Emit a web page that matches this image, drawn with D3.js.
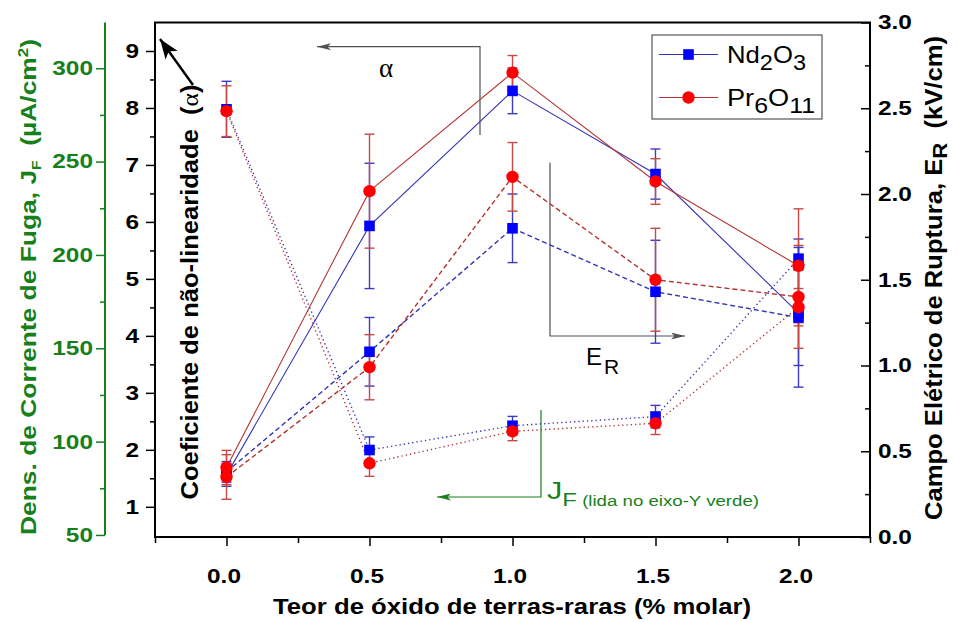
<!DOCTYPE html>
<html>
<head>
<meta charset="utf-8">
<script src="https://cdn.jsdelivr.net/npm/d3@7"></script>
<style>
  body { margin: 0; background: #fff; }
  svg { display: block; }
  text { white-space: pre; }
</style>
</head>
<body>
<script>
// x positions (% molar)
const xValues = [0, 0.5, 1.0, 1.5, 2.0]

// alpha (left black axis), solid lines
const alphaNd = [1.56, 5.93, 8.30, 6.84, 4.40]
const alphaNdErr = [0.2, 1.1, 0.4, 0.44, 1.3]
const alphaPr = [1.69, 6.54, 8.62, 6.71, 5.23]
const alphaPrErr = [0.3, 1.0, 0.3, 0.4, 1.0]

// E_R (right axis, kV/cm), dashed lines
const erNd = [0.38, 1.08, 1.80, 1.43, 1.28]
const erNdErr = [0.06, 0.2, 0.2, 0.3, 0.28]
const erPr = [0.35, 0.99, 2.10, 1.50, 1.40]
const erPrErr = [0.13, 0.19, 0.2, 0.3, 0.3]

// J_F (green axis, uA/cm2), dotted lines
const jfNd = [278, 95.5, 108.5, 113.4, 198]
const jfNdErr = [15, 7, 5, 6, 6]
const jfPr = [277, 88.4, 105.5, 109.8, 172]
const jfPrErr = [13.6, 7, 5, 6, 10]

const xTicks = [0, 0.5, 1.0, 1.5, 2.0]
const xMinor = [-0.25, 0.25, 0.75, 1.25, 1.75, 2.25]
const leftTicks = [1, 2, 3, 4, 5, 6, 7, 8, 9]
const leftMinor = [1.5, 2.5, 3.5, 4.5, 5.5, 6.5, 7.5, 8.5]
const rightTicks = [0, 0.5, 1.0, 1.5, 2.0, 2.5, 3.0]
const rightMinor = [0.25, 0.75, 1.25, 1.75, 2.25, 2.75]
const greenTicks = [50, 100, 150, 200, 250, 300]
const greenMinor = [75, 125, 175, 225, 275]

const width = 958
const height = 622
const plotLeft = 155, plotRight = 870, plotTop = 22.5, plotBottom = 537
const green = "#17801a"
const blue = "#0000ff", red = "#ff0000"
const blueLine = "#3434b4", redLine = "#b43434"
const blueErr = "#3c3cc0", redErr = "#c84848"
const sans = "'Liberation Sans', Arial, sans-serif"

const x = d3.scaleLinear([-0.25, 2.25], [plotLeft, plotRight])
const yL = d3.scaleLinear([0.47, 9.5], [plotBottom, plotTop])
const yR = d3.scaleLinear([0, 3], [plotBottom, plotTop])
const yG = d3.scaleLinear([48.9, 324.5], [plotBottom, plotTop])

const svg = d3.select("body").append("svg")
    .attr("width", width)
    .attr("height", height)
    .attr("viewBox", [0, 0, width, height])
    .style("font-family", sans)

// the original lettering is wider than Liberation Sans, stretch it a bit
function stretch(sel, factor) {
    sel.each(function () {
        const len = this.getComputedTextLength()
        d3.select(this).attr("textLength", len * factor).attr("lengthAdjust", "spacingAndGlyphs")
    })
}
function fitLength(sel, len) {
    sel.attr("textLength", len).attr("lengthAdjust", "spacingAndGlyphs")
}

const defs = svg.append("defs")
function arrowMarker(id, color, w, h) {
    defs.append("marker")
        .attr("id", id)
        .attr("viewBox", `0 0 ${w} ${h}`)
        .attr("refX", w).attr("refY", h / 2)
        .attr("markerWidth", w).attr("markerHeight", h)
        .attr("markerUnits", "userSpaceOnUse")
        .attr("orient", "auto")
        .append("path")
        .attr("d", `M0,0L${w},${h / 2}L0,${h}L${w * 0.25},${h / 2}Z`)
        .attr("fill", color)
}
arrowMarker("arrGray", "#505050", 14, 7)
arrowMarker("arrGreen", green, 14, 7)
arrowMarker("arrBlack", "#000", 20, 15)

// ----- axes -----
function styleAxis(g, color) {
    g.select(".domain").remove()
    g.selectAll("line").attr("stroke", color).attr("stroke-width", 1.5)
    g.selectAll("text")
        .attr("fill", color)
        .style("font-size", "20px")
        .style("font-weight", "bold")
        .style("font-family", sans)
        .call(t => stretch(t, 1.22))
}

svg.append("g").attr("transform", `translate(${plotLeft},0)`)
    .call(d3.axisLeft(yL).tickValues(leftMinor).tickSize(5).tickFormat(""))
    .call(g => styleAxis(g, "#000"))
svg.append("g").attr("transform", `translate(${plotLeft},0)`)
    .call(d3.axisLeft(yL).tickValues(leftTicks).tickSize(9).tickPadding(7).tickFormat(d3.format("d")))
    .call(g => styleAxis(g, "#000"))

svg.append("g").attr("transform", `translate(0,${plotBottom})`)
    .call(d3.axisBottom(x).tickValues(xMinor).tickSize(6).tickFormat(""))
    .call(g => styleAxis(g, "#000"))
svg.append("g").attr("transform", `translate(0,${plotBottom})`)
    .call(d3.axisBottom(x).tickValues(xTicks).tickSize(9).tickPadding(23).tickFormat(d3.format(".1f")))
    .call(g => styleAxis(g, "#000"))
    .call(g => g.selectAll("text").attr("x", -3))

svg.append("g").attr("transform", `translate(${plotRight},0)`)
    .call(d3.axisRight(yR).tickValues(rightMinor).tickSizeInner(-5).tickFormat(""))
    .call(g => styleAxis(g, "#000"))
svg.append("g").attr("transform", `translate(${plotRight},0)`)
    .call(d3.axisRight(yR).tickValues(rightTicks).tickSizeInner(-9).tickPadding(8).tickFormat(d3.format(".1f")))
    .call(g => styleAxis(g, "#000"))

const gx = 105
svg.append("line")
    .attr("x1", gx).attr("x2", gx)
    .attr("y1", plotTop).attr("y2", yG(50))
    .attr("stroke", green).attr("stroke-width", 2)
svg.append("g").attr("transform", `translate(${gx},0)`)
    .call(d3.axisLeft(yG).tickValues(greenMinor).tickSize(5).tickFormat(""))
    .call(g => styleAxis(g, green))
svg.append("g").attr("transform", `translate(${gx},0)`)
    .call(d3.axisLeft(yG).tickValues(greenTicks).tickSize(9).tickPadding(3).tickFormat(d3.format("d")))
    .call(g => styleAxis(g, green))

// frame
svg.append("rect")
    .attr("x", plotLeft).attr("y", plotTop)
    .attr("width", plotRight - plotLeft).attr("height", plotBottom - plotTop)
    .attr("fill", "none").attr("stroke", "#000").attr("stroke-width", 2)

// ----- axis titles -----
svg.append("text")
    .attr("x", 512).attr("y", 614)
    .attr("text-anchor", "middle")
    .style("font", `bold 22px ${sans}`)
    .text("Teor de óxido de terras-raras (% molar)")
    .call(t => fitLength(t, 478))

const ta = svg.append("text")
    .attr("transform", "translate(198,292) rotate(-90)")
    .attr("text-anchor", "middle")
    .style("font", `bold 23px ${sans}`)
ta.append("tspan").text("Coeficiente de não-linearidade  (")
ta.append("tspan").style("font-family", "'Liberation Serif', serif").style("font-weight", "normal").text("α")
ta.append("tspan").text(")")
fitLength(ta, 415)

const tg = svg.append("text")
    .attr("transform", "translate(36,287) rotate(-90)")
    .attr("text-anchor", "middle")
    .attr("fill", green)
    .style("font", `bold 22px ${sans}`)
tg.append("tspan").text("Dens. de Corrente de Fuga, J")
tg.append("tspan").attr("dy", 5).style("font-size", "13px").text("F")
tg.append("tspan").attr("dy", -5).text("  (µA/cm")
tg.append("tspan").attr("dy", -8).style("font-size", "14px").text("2")
tg.append("tspan").attr("dy", 8).text(")")
fitLength(tg, 496)

const tr = svg.append("text")
    .attr("transform", "translate(942,278) rotate(-90)")
    .attr("text-anchor", "middle")
    .style("font", `bold 23px ${sans}`)
tr.append("tspan").text("Campo Elétrico de Ruptura, E")
tr.append("tspan").attr("dy", 5).style("font-size", "20px").text("R")
tr.append("tspan").attr("dy", -5).text("  (kV/cm)")
fitLength(tr, 484)

// ----- annotations -----
svg.append("path")
    .attr("d", `M480,135V46.7H317`)
    .attr("fill", "none").attr("stroke", "#505050").attr("stroke-width", 1.2)
    .attr("marker-end", "url(#arrGray)")
svg.append("text")
    .attr("x", 386).attr("y", 77)
    .attr("text-anchor", "middle")
    .style("font", "27px 'Liberation Serif', serif")
    .text("α")

svg.append("path")
    .attr("d", `M550,162.7V336H685`)
    .attr("fill", "none").attr("stroke", "#505050").attr("stroke-width", 1.2)
    .attr("marker-end", "url(#arrGray)")
const er = svg.append("text")
    .attr("x", 586).attr("y", 365)
    .style("font", `24px ${sans}`)
er.append("tspan").text("E")
er.append("tspan").attr("dy", 9).attr("dx", 2).style("font-size", "21px").text("R")

svg.append("path")
    .attr("d", `M541,410V497H437`)
    .attr("fill", "none").attr("stroke", green).attr("stroke-width", 1.2)
    .attr("marker-end", "url(#arrGreen)")
const jf = svg.append("text")
    .attr("x", 547).attr("y", 499)
    .attr("fill", green)
    .style("font", `23px ${sans}`)
jf.append("tspan").text("J")
jf.append("tspan").attr("dy", 7).style("font-size", "18px").text("F")
jf.append("tspan").style("font-size", "14px").text(" (lida no eixo-Y verde)")
fitLength(jf, 212)

svg.append("line")
    .attr("x1", 193).attr("y1", 85)
    .attr("x2", 160).attr("y2", 39)
    .attr("stroke", "#000").attr("stroke-width", 2.4)
    .attr("marker-end", "url(#arrBlack)")

// ----- series -----
const series = [
    { v: alphaNd, e: alphaNdErr, y: yL, line: blueLine, err: blueErr, fill: blue, shape: "square", dash: null },
    { v: alphaPr, e: alphaPrErr, y: yL, line: redLine, err: redErr, fill: red, shape: "circle", dash: null },
    { v: erNd, e: erNdErr, y: yR, line: blueLine, err: blueErr, fill: blue, shape: "square", dash: "5,3" },
    { v: erPr, e: erPrErr, y: yR, line: redLine, err: redErr, fill: red, shape: "circle", dash: "5,3" },
    { v: jfNd, e: jfNdErr, y: yG, line: blueLine, err: blueErr, fill: blue, shape: "square", dash: "1.3,3" },
    { v: jfPr, e: jfPrErr, y: yG, line: redLine, err: redErr, fill: red, shape: "circle", dash: "1.3,3" }
]

const plot = svg.append("g")

series.forEach(s => {
    const pts = xValues.map((xv, i) => [xv, s.v[i]])
    plot.append("path")
        .datum(pts)
        .attr("fill", "none")
        .attr("stroke", s.line)
        .attr("stroke-width", s.dash ? 1.4 : 1.1)
        .attr("stroke-dasharray", s.dash)
        .attr("d", d3.line().x(d => x(d[0])).y(d => s.y(d[1])))
})

series.forEach(s => {
    const g = plot.append("g").attr("stroke", s.err).attr("stroke-width", 1.4)
    xValues.forEach((xv, i) => {
        const cx = x(xv)
        const y1 = s.y(s.v[i] + s.e[i]), y2 = s.y(s.v[i] - s.e[i])
        g.append("line").attr("x1", cx).attr("x2", cx).attr("y1", y1).attr("y2", y2)
        g.append("line").attr("x1", cx - 5).attr("x2", cx + 5).attr("y1", y1).attr("y2", y1)
        g.append("line").attr("x1", cx - 5).attr("x2", cx + 5).attr("y1", y2).attr("y2", y2)
    })
})

function drawMarker(g, shape, cx, cy, fill) {
    if (shape === "square") {
        g.append("rect").attr("x", cx - 5.3).attr("y", cy - 5.3)
            .attr("width", 10.6).attr("height", 10.6).attr("fill", fill)
    } else {
        g.append("circle").attr("cx", cx).attr("cy", cy).attr("r", 6.2).attr("fill", fill)
    }
}

const order = [0, 2, 4, 1, 3, 5]
order.forEach(k => {
    const s = series[k]
    xValues.forEach((xv, i) => drawMarker(plot, s.shape, x(xv), s.y(s.v[i]), s.fill))
})

// ----- legend -----
const legend = svg.append("g")
legend.append("rect")
    .attr("x", 652).attr("y", 35).attr("width", 170).attr("height", 84)
    .attr("fill", "#fff").attr("stroke", "#555").attr("stroke-width", 1.2)

const legendItems = [
    { y: 54.5, len: 79, line: blueLine, fill: blue, shape: "square", parts: [["Nd", 0], ["2", 1], ["O", 0], ["3", 1]] },
    { y: 97.5, len: 88, line: redLine, fill: red, shape: "circle", parts: [["Pr", 0], ["6", 1], ["O", 0], ["11", 1]] }
]
legendItems.forEach(it => {
    legend.append("line")
        .attr("x1", 659).attr("x2", 718).attr("y1", it.y).attr("y2", it.y)
        .attr("stroke", it.line).attr("stroke-width", 1.2)
    drawMarker(legend, it.shape, 688.5, it.y, it.fill)
    const t = legend.append("text")
        .attr("x", 727).attr("y", it.y + 8)
        .style("font", `24px ${sans}`)
    let prevSub = 0
    it.parts.forEach(([str, sub]) => {
        t.append("tspan")
            .attr("dy", (sub - prevSub) * 7)
            .style("font-size", sub ? "22px" : "24px")
            .text(str)
        prevSub = sub
    })
    fitLength(t, it.len)
})
</script>
</body>
</html>
